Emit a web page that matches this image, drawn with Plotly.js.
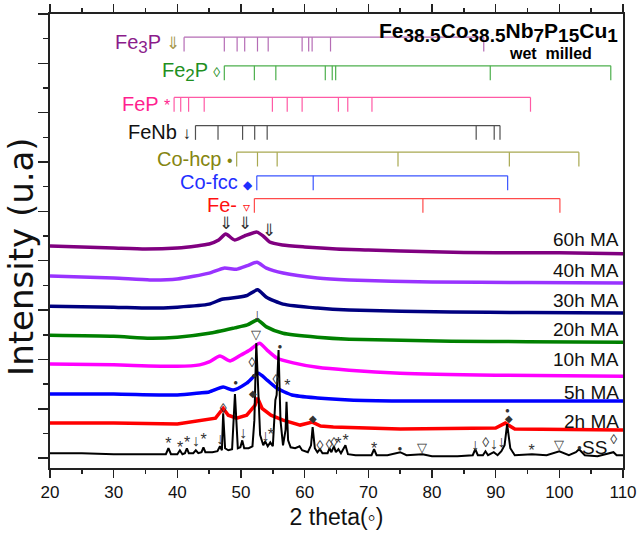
<!DOCTYPE html>
<html><head><meta charset="utf-8">
<script src="https://cdn.plot.ly/plotly-3.0.1.min.js"></script>
<style>html,body{margin:0;padding:0;background:#fff;}#chart{width:639px;height:540px;}</style>
</head><body><div id="chart"></div>
<script>
// ---------------- data ----------------
// XRD patterns (stacked, arbitrary units)
const x60 = [20,25,30,35,40,43,45,46.5,47.6,49,50.5,52.5,53.5,54.5,56.5,60,65,70,80,90,100,110];
const y60 = [4.30,4.28,4.26,4.24,4.26,4.30,4.34,4.42,4.54,4.42,4.50,4.58,4.50,4.38,4.32,4.28,4.24,4.22,4.18,4.16,4.16,4.14];
const x40 = [20,30,35.7,40,45,47.3,49.4,51,52.5,54,56.6,62,67,80,95,110];
const y40 = [3.69,3.65,3.61,3.63,3.75,3.85,3.83,3.90,3.97,3.85,3.75,3.65,3.61,3.57,3.56,3.55];
const x30 = [20,30,35.7,40,45,47,49.5,51,52.6,54,56.6,62,67,83,95,110];
const y30 = [3.08,3.06,3.04,3.06,3.12,3.22,3.26,3.30,3.41,3.26,3.12,3.04,3.00,2.96,2.95,2.94];
const x20 = [20,30,35.7,40,45,49,51,52.6,54,56.6,62,67,83,95,110];
const y20 = [2.49,2.47,2.43,2.45,2.53,2.64,2.70,2.80,2.66,2.53,2.45,2.41,2.37,2.36,2.35];
const x10 = [20,30,40,43.5,45,46.7,48.3,50,51.4,52.9,54.1,55.6,58.2,62,67,75,90,110];
const y10 = [1.91,1.89,1.86,1.89,1.95,2.07,1.97,2.09,2.19,2.33,2.19,2.03,1.93,1.84,1.78,1.72,1.68,1.66];
const x5 = [20,30,40,43.5,45,47.2,48.8,50.9,52.7,54.1,55.6,58,62,67,75,90,110];
const y5 = [1.30,1.30,1.28,1.32,1.34,1.44,1.38,1.52,1.72,1.58,1.42,1.28,1.22,1.18,1.16,1.16,1.16];
const x2 = [20,30,40,43,44.5,46,47.2,48,49.3,50.9,52.2,52.6,53.3,54.7,56.6,59.3,61.2,62.5,64.5,75,90,91.5,93,110];
const y2 = [0.71,0.71,0.69,0.75,0.77,0.81,1.01,0.87,0.81,0.87,1.07,1.22,1.01,0.87,0.77,0.67,0.73,0.65,0.63,0.59,0.61,0.71,0.59,0.57];
const xSS = [20,25,30,35,38.2,38.6,39.0,40.0,40.4,40.8,41.2,41.5,41.8,42.5,42.9,43.3,43.8,44.1,44.4,45.5,46.3,46.7,47.0,47.2,47.5,48.0,48.6,49.05,49.5,49.9,50.2,50.5,51.2,51.8,52.1,52.4,52.7,53.0,53.5,53.8,54.2,54.6,55.0,55.4,55.6,55.9,56.2,56.6,57.0,57.15,57.4,57.8,58.5,59.2,59.6,60.5,61.0,61.25,61.6,62.0,62.4,62.8,63.6,63.9,64.2,64.6,64.9,65.3,65.7,66.4,66.8,68.0,70.5,70.9,71.3,73.0,75.0,76.0,78.5,80.0,84.0,86.4,86.8,87.2,88.0,88.4,88.8,89.7,90.3,90.9,91.4,91.8,92.3,93.0,95.7,98.0,100.0,101.5,102.6,103.1,104.0,106.0,108.5,109.0,110.0];
const ySS = [0.10,0.10,0.08,0.08,0.08,0.20,0.08,0.08,0.16,0.08,0.10,0.20,0.10,0.10,0.16,0.10,0.12,0.22,0.12,0.12,0.14,0.24,0.16,0.91,0.20,0.16,0.18,1.30,0.20,0.22,0.36,0.20,0.20,0.24,0.77,2.33,1.18,0.47,0.26,0.34,0.24,0.32,0.24,1.18,1.28,2.19,0.77,0.26,0.57,1.14,0.36,0.22,0.20,0.24,0.16,0.12,0.26,0.63,0.20,0.12,0.18,0.10,0.10,0.20,0.12,0.24,0.12,0.18,0.10,0.26,0.08,0.06,0.06,0.18,0.06,0.06,0.12,0.06,0.08,0.04,0.04,0.06,0.18,0.06,0.06,0.14,0.06,0.12,0.06,0.14,0.26,0.69,0.20,0.06,0.08,0.06,0.14,0.06,0.12,0.18,0.06,0.04,0.12,0.06,0.06];

const seriesNames = ['60h MA','40h MA','30h MA','20h MA','10h MA','5h MA','2h MA','SS'];
const seriesLabelY = [4.44,3.81,3.20,2.61,1.99,1.34,0.74,0.22];

// reference peak positions (2 theta) of each phase
const phaseNames = ['Fe3P','Fe2P','FeP','FeNb','Co-hcp','Co-fcc','Fe'];
const fe3pPeaks = [41.06,47.38,49.39,50.58,52.59,54.27,59.6,60.63,61.17,64.06,88.13];
const fe2pPeaks = [47.38,52.1,55.47,63.24,64.33,64.87,89.15,108.08];
const fepPeaks = [39.49,40.53,41.77,44.22,54.93,57.26,59.6,65.3,66.77,70.57,95.47];
const fenbPeaks = [42.85,46.39,50.25,52.15,54.11,86.94,89.77,90.68];
const cohcpPeaks = [49.32,52.59,55.68,74.66,92.15,103.07];
const cofccPeaks = [52.48,61.34,91.88];
const fePeaks = [52.1,78.57,100.09];

// peak markers on the patterns
const markerX = [38.6,40.45,41.55,42.9,44.12,46.7,47.22,49.15,50.3,51.73,52.04,51.88,52.35,53.82,54.7,55.5,56.12,57.27,61.3,62.4,63.87,64.6,65.28,66.44,70.89,74.97,78.47,86.75,88.42,89.7,90.88,91.86,92.09,95.65,99.94,103.15,108.55,52.51,47.64,50.58,54.4];
const markerY = [0.26,0.18,0.28,0.32,0.34,0.36,0.99,1.52,0.49,1.91,1.66,1.28,2.49,0.43,0.45,1.58,2.25,1.44,0.79,0.24,0.26,0.30,0.26,0.32,0.16,0.18,0.20,0.24,0.30,0.26,0.30,0.95,0.79,0.12,0.26,0.20,0.36,2.88,4.72,4.72,4.58];
const markerSym = ['*','*','*','↓','*','↓','◊','●','↓','◊','●','◆','▽','↓','*','◊','●','*','◆','◊','◊','◊','*','*','*','●','▽','↓','◊','↓','↓','●','◆','*','▽','●','◊','↓','⇓','⇓','⇓'];

// ---------------- styles ----------------
const FONT = 'Liberation Sans, Arial, Helvetica, sans-serif';
const seriesColors = ['#800080','#9933ff','#000080','#008000','#ff00ff','#0000ff','#ff0000','#000000'];
const seriesX = [x60,x40,x30,x20,x10,x5,x2,xSS];
const seriesY = [y60,y40,y30,y20,y10,y5,y2,ySS];
const phasePeaks = [fe3pPeaks,fe2pPeaks,fepPeaks,fenbPeaks,cohcpPeaks,cofccPeaks,fePeaks];
const phaseLevel = [8.53,7.95,7.31,6.74,6.20,5.72,5.26];
const TICK = 0.29;
const phaseLineColor = ['#b56cb5','#4caf4c','#ff5aa5','#505050','#a8a850','#3a55ff','#ff4a4a'];
const sub = (s,sz) => '<sub><span style="font-size:'+sz+'px">'+s+'</span></sub>';
const phaseLabel = ['Fe'+sub('3',17)+'P','Fe'+sub('2',17)+'P','FeP','FeNb','Co-hcp','Co-fcc','Fe-'];
const phaseLabelColor = ['#8b1c8b','#1f8f1f','#ff1f8f','#111111','#858510','#1f2fff','#ff1010'];
const phaseSym = ['⇓','◊','*','↓','•','◆','▿'];
const phaseSymColor = ['#a89a50','#1f8f1f','#ff1f8f','#111111','#858510','#1f2fff','#ff1010'];
const phaseSymSize = [17,14,16,17,16,12,14];
const symSize = {'*':16,'↓':16,'◊':14,'●':8,'◆':10,'▽':13,'⇓':17};

const traces = [];
seriesNames.forEach((n,i)=>{
  traces.push({x:seriesX[i], y:seriesY[i], type:'scatter', mode:'lines', name:n,
    line:{color:seriesColors[i], width: i===7 ? 2 : 3.5, shape: i>=6 ? 'linear' : 'spline', smoothing:0.6},
    showlegend:false, hoverinfo:'skip'});
});
phasePeaks.forEach((pk,i)=>{
  const xs=[pk[0],pk[pk.length-1],null], ys=[phaseLevel[i],phaseLevel[i],null];
  pk.forEach(p=>{xs.push(p,p,null); ys.push(phaseLevel[i],phaseLevel[i]-TICK,null);});
  traces.push({x:xs,y:ys,type:'scatter',mode:'lines',name:phaseNames[i],
    line:{color:phaseLineColor[i],width:1.2},showlegend:false,hoverinfo:'skip'});
});
traces.push({x:markerX,y:markerY,text:markerSym,type:'scatter',mode:'text',
  textposition:'middle center',
  textfont:{family:FONT,color:'#333333',size:markerSym.map(s=>symSize[s])},
  showlegend:false,hoverinfo:'skip'});

const annotations = [];
phasePeaks.forEach((pk,i)=>{
  annotations.push({x:pk[0],xref:'x',y:phaseLevel[i]-0.13,yref:'y',xanchor:'right',yanchor:'middle',
    xshift:-2,showarrow:false,
    text:phaseLabel[i]+' <span style="color:'+phaseSymColor[i]+';font-size:'+phaseSymSize[i]+'px">'+phaseSym[i]+'</span>',
    font:{family:FONT,size:20,color:phaseLabelColor[i]}});
});
seriesNames.forEach((n,i)=>{
  annotations.push({x:i===7?0.976:0.9965,xref:'paper',y:seriesLabelY[i],yref:'y',xanchor:'right',yanchor:'middle',
    showarrow:false,text:n,font:{family:FONT,size:19,color:'#111'}});
});
annotations.push({x:0.995,xref:'paper',y:0.993,yref:'paper',xanchor:'right',yanchor:'top',showarrow:false,
  text:'<b>Fe'+sub('38.5',19)+'Co'+sub('38.5',19)+'Nb'+sub('7',19)+'P'+sub('15',19)+'Cu'+sub('1',19)+'</b>',
  font:{family:FONT,size:21,color:'#000'}});
annotations.push({x:0.874,xref:'paper',y:0.913,yref:'paper',xanchor:'center',yanchor:'middle',showarrow:false,
  text:'<b>wet\u00a0 milled</b>',font:{family:FONT,size:16,color:'#000'}});
// y-axis title (placed as in the reference, slightly below the axis centre)
annotations.push({x:-0.0506,xref:'paper',y:0.465,yref:'paper',xanchor:'center',yanchor:'middle',textangle:-90,
  showarrow:false,text:'Intensity (u.a)',font:{family:'DejaVu Sans, Liberation Sans, sans-serif',size:34,color:'#111'}});

const layout = {
  width:639,height:540,
  margin:{l:50,r:16,t:14,b:72,pad:0},
  paper_bgcolor:'#fff',plot_bgcolor:'#fff',
  font:{family:FONT,color:'#000'},
  xaxis:{range:[20,110],tick0:20,dtick:10,ticks:'outside',ticklen:8,tickwidth:1.5,tickcolor:'#222',
    minor:{dtick:5,ticks:'outside',ticklen:4,tickwidth:1.5,tickcolor:'#222'},
    showline:true,linewidth:1.6,linecolor:'#222',mirror:'ticks',showgrid:false,zeroline:false,
    tickfont:{family:FONT,size:17,color:'#111'},
    title:{text:'2 theta(\u25e6)',font:{family:FONT,size:23,color:'#111'},standoff:8}},
  yaxis:{range:[-0.2,9],tick0:0,dtick:1,ticks:'outside',ticklen:10,tickwidth:1.5,tickcolor:'#222',
    minor:{dtick:0.5,ticks:'outside',ticklen:5,tickwidth:1.5,tickcolor:'#222'},
    showticklabels:false,showline:true,linewidth:1.6,linecolor:'#222',mirror:true,showgrid:false,zeroline:false},
  annotations:annotations,
  showlegend:false
};
Plotly.newPlot('chart',traces,layout,{staticPlot:true,displayModeBar:false});
</script></body></html>
